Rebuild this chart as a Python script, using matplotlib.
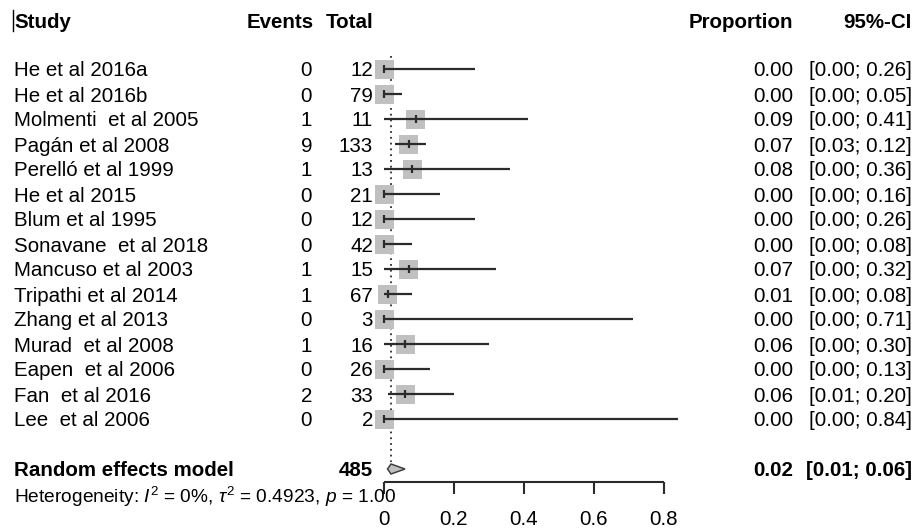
import matplotlib.pyplot as plt
from matplotlib.patches import Rectangle, Polygon
from matplotlib.transforms import blended_transform_factory

# ────────────────────────────────────────────────────────────────
# DATA
# ────────────────────────────────────────────────────────────────
studies = [
    "He et al 2016a", "He et al 2016b", "Molmenti  et al 2005", "Pagán et al 2008",
    "Perelló et al 1999", "He et al 2015", "Blum et al 1995", "Sonavane  et al 2018",
    "Mancuso et al 2003", "Tripathi et al 2014", "Zhang et al 2013", "Murad  et al 2008",
    "Eapen  et al 2006", "Fan  et al 2016", "Lee  et al 2006",
]
events = [0, 0, 1, 9, 1, 0, 0, 0, 1, 1, 0, 1, 0, 2, 0]
totals = [12, 79, 11, 133, 13, 21, 12, 42, 15, 67, 3, 16, 26, 33, 2]
proportion = [0.00, 0.00, 0.09, 0.07, 0.08, 0.00, 0.00, 0.00, 0.07, 0.01, 0.00, 0.06, 0.00, 0.06, 0.00]
ci_lower = [0.00, 0.00, 0.00, 0.03, 0.00, 0.00, 0.00, 0.00, 0.00, 0.00, 0.00, 0.00, 0.00, 0.01, 0.00]
ci_upper = [0.26, 0.05, 0.41, 0.12, 0.36, 0.16, 0.26, 0.08, 0.32, 0.08, 0.71, 0.30, 0.13, 0.20, 0.84]

pooled_est = 0.02
pooled_lower = 0.01
pooled_upper = 0.06
pooled_total = 485

x_ticks = [0, 0.2, 0.4, 0.6, 0.8]

# ────────────────────────────────────────────────────────────────
# STYLE
# ────────────────────────────────────────────────────────────────
plt.rcParams["font.family"] = ["Liberation Sans", "DejaVu Sans"]
plt.rcParams["mathtext.fontset"] = "custom"
plt.rcParams["mathtext.rm"] = "Liberation Sans"
plt.rcParams["mathtext.it"] = "Liberation Sans:italic"

FS = 14.8
W, H = 917, 531
PX_PER_UNIT = 350      # pixels per proportion unit
X0_PX = 384            # pixel where proportion = 0
ROW_PX = 25            # row height in pixels
ROW0_PX = 69           # centre of first study row

BOX_W = 19 / PX_PER_UNIT
BOX_H = 19 / ROW_PX
BOX_COLOR = "#c0c0c0"
LINE_COLOR = "#2b2b2b"

fig = plt.figure(figsize=(W / 100, H / 100), dpi=100)
ax = fig.add_axes([0, 0, 1, 1])
ax.set_xlim(-X0_PX / PX_PER_UNIT, (W - X0_PX) / PX_PER_UNIT)
ax.set_ylim((H - ROW0_PX) / ROW_PX, -ROW0_PX / ROW_PX)
ax.axis("off")

# text columns sit at fixed figure positions, rows follow data y
col = blended_transform_factory(fig.transFigure, ax.transData)


def colx(px):
    return px / W


header_y = -1.96
pooled_y = len(studies) + 1
het_y = pooled_y + 1
axis_y = 16.52

# ───── headers ─────
ax.text(colx(14), header_y, "Study", transform=col, fontsize=FS, weight="bold",
        ha="left", va="center_baseline")
ax.text(colx(314), header_y, "Events", transform=col, fontsize=FS, weight="bold",
        ha="right", va="center_baseline")
ax.text(colx(373), header_y, "Total", transform=col, fontsize=FS, weight="bold",
        ha="right", va="center_baseline")
ax.text(colx(793), header_y, "Proportion", transform=col, fontsize=FS, weight="bold",
        ha="right", va="center_baseline")
ax.text(colx(912), header_y, "95%-CI", transform=col, fontsize=FS, weight="bold",
        ha="right", va="center_baseline")
ax.plot([colx(13), colx(13)], [header_y - 0.42, header_y + 0.42], transform=col,
        color="black", lw=1)

# ───── study rows ─────
for i, name in enumerate(studies):
    ax.text(colx(14), i, name, transform=col, fontsize=FS, ha="left", va="center_baseline")
    ax.text(colx(312), i, f"{events[i]}", transform=col, fontsize=FS, ha="right",
            va="center_baseline")
    ax.text(colx(373), i, f"{totals[i]}", transform=col, fontsize=FS, ha="right",
            va="center_baseline")
    ax.text(colx(793), i, f"{proportion[i]:.2f}", transform=col, fontsize=FS, ha="right",
            va="center_baseline")
    ax.text(colx(912), i, f"[{ci_lower[i]:.2f}; {ci_upper[i]:.2f}]", transform=col,
            fontsize=FS, ha="right", va="center_baseline")

    ax.add_patch(Rectangle((proportion[i] - BOX_W / 2, i - BOX_H / 2), BOX_W, BOX_H,
                           facecolor=BOX_COLOR, edgecolor="none", zorder=2))
    ax.plot([ci_lower[i], ci_upper[i]], [i, i], color=LINE_COLOR, lw=1.6, zorder=3,
            solid_capstyle="butt")
    ax.plot([proportion[i], proportion[i]], [i - 0.17, i + 0.17], color=LINE_COLOR,
            lw=1.6, zorder=3, solid_capstyle="butt")

# reference line at the pooled estimate
ax.plot([pooled_est, pooled_est], [-0.52, pooled_y - 0.28], color=LINE_COLOR,
        lw=1.3, ls=(0, (1, 2.2)), zorder=1)

# ───── pooled row ─────
ax.text(colx(14), pooled_y, "Random effects model", transform=col, fontsize=FS,
        weight="bold", ha="left", va="center_baseline")
ax.text(colx(373), pooled_y, f"{pooled_total}", transform=col, fontsize=FS,
        weight="bold", ha="right", va="center_baseline")
ax.text(colx(793), pooled_y, f"{pooled_est:.2f}", transform=col, fontsize=FS,
        weight="bold", ha="right", va="center_baseline")
ax.text(colx(912), pooled_y, f"[{pooled_lower:.2f}; {pooled_upper:.2f}]", transform=col,
        fontsize=FS, weight="bold", ha="right", va="center_baseline")
ax.add_patch(Polygon([(pooled_lower, pooled_y), (pooled_est, pooled_y - 0.2),
                      (pooled_upper, pooled_y), (pooled_est, pooled_y + 0.2)],
                     closed=True, facecolor=BOX_COLOR, edgecolor="#404040", lw=1.1,
                     zorder=3))

ax.text(colx(14), het_y,
        r"Heterogeneity: $I^2$ = 0%, $\tau^2$ = 0.4923, $p$ = 1.00",
        transform=col, fontsize=13.8, ha="left", va="center_baseline")

# ───── x axis ─────
ax.plot([x_ticks[0], x_ticks[-1]], [axis_y, axis_y], color=LINE_COLOR, lw=1.5,
        solid_capstyle="butt")
for t in x_ticks:
    ax.plot([t, t], [axis_y, axis_y + 0.48], color=LINE_COLOR, lw=1.5,
            solid_capstyle="butt")
    ax.text(t, axis_y + 1.42, f"{t:g}", fontsize=FS, ha="center", va="center_baseline")

fig.savefig("out.png", dpi=100)
